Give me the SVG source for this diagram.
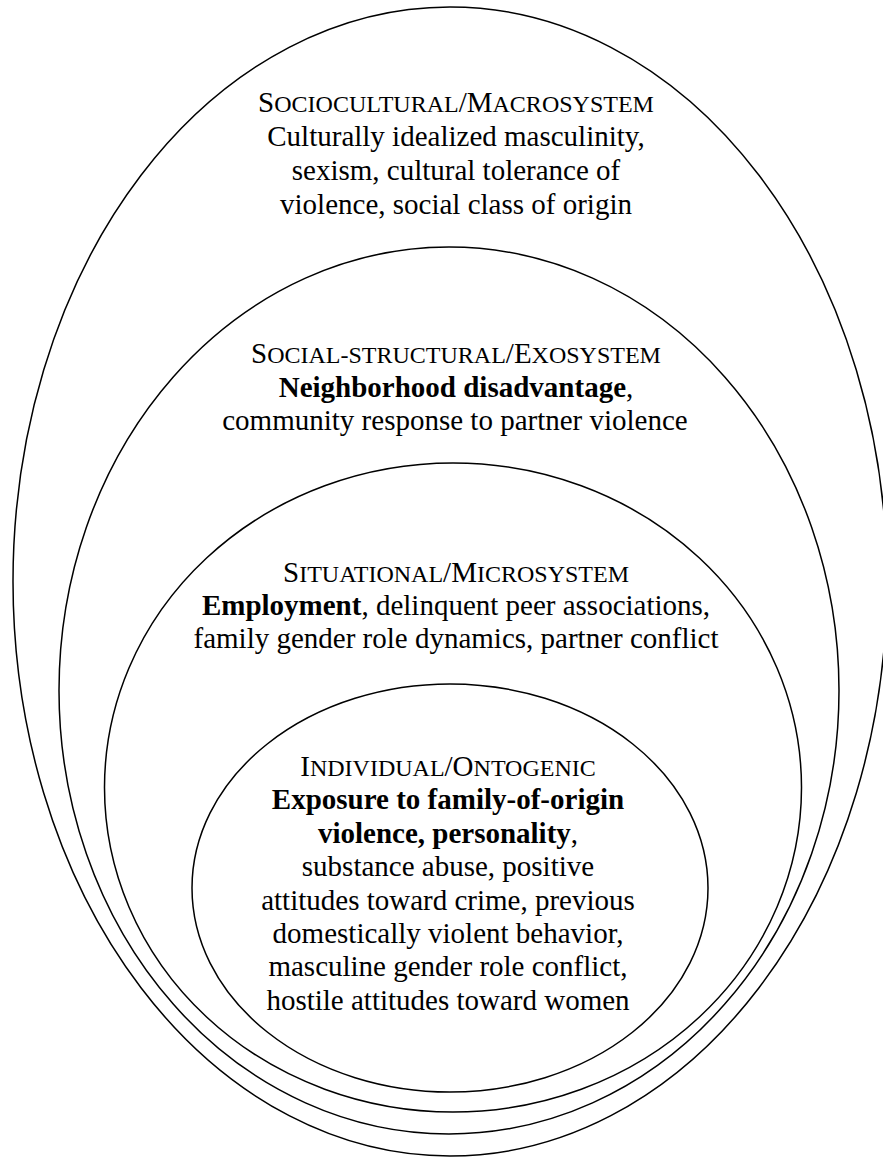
<svg xmlns="http://www.w3.org/2000/svg" width="883" height="1159" viewBox="0 0 883 1159">
<style>
.ring{fill:#fff;stroke:#000;stroke-width:1.5}
.t{font-family:'Times New Roman','Liberation Serif','DejaVu Serif',serif;font-size:29px;fill:#000;text-anchor:middle}
.sc{font-size:24px}
.b{font-weight:bold}
</style>
<rect width="883" height="1159" fill="#fff"/>
<g id="macrosystem">
<ellipse class="ring" cx="450" cy="581.5" rx="437" ry="574.5"/>
<g class="t">
<text x="456" y="112">S<tspan class="sc">OCIOCULTURAL</tspan>/M<tspan class="sc">ACROSYSTEM</tspan></text>
<text x="456" y="146">Culturally idealized masculinity,</text>
<text x="456" y="180">sexism, cultural tolerance of</text>
<text x="456" y="214">violence, social class of origin</text>
</g>
</g>
<g id="exosystem">
<ellipse class="ring" cx="449" cy="690.5" rx="390" ry="443.5"/>
<g class="t">
<text x="456" y="363">S<tspan class="sc">OCIAL-STRUCTURAL</tspan>/E<tspan class="sc">XOSYSTEM</tspan></text>
<text x="456" y="397"><tspan class="b">Neighborhood disadvantage</tspan>,</text>
<text x="455" y="430">community response to partner violence</text>
</g>
</g>
<g id="microsystem">
<ellipse class="ring" cx="453" cy="787.5" rx="348.5" ry="324.5"/>
<g class="t">
<text x="456" y="582">S<tspan class="sc">ITUATIONAL</tspan>/M<tspan class="sc">ICROSYSTEM</tspan></text>
<text x="456" y="615"><tspan class="b">Employment</tspan>, delinquent peer associations,</text>
<text x="456" y="648">family gender role dynamics, partner conflict</text>
</g>
</g>
<g id="ontogenic">
<ellipse class="ring" cx="450" cy="888" rx="258" ry="204"/>
<g class="t">
<text x="448" y="776">I<tspan class="sc">NDIVIDUAL</tspan>/O<tspan class="sc">NTOGENIC</tspan></text>
<text x="448" y="809" class="b">Exposure to family-of-origin</text>
<text x="448" y="843"><tspan class="b">violence, personality</tspan>,</text>
<text x="448" y="876">substance abuse, positive</text>
<text x="448" y="910">attitudes toward crime, previous</text>
<text x="448" y="943">domestically violent behavior,</text>
<text x="448" y="976">masculine gender role conflict,</text>
<text x="448" y="1010">hostile attitudes toward women</text>
</g>
</g>
<g id="connectors"/>
</svg>
